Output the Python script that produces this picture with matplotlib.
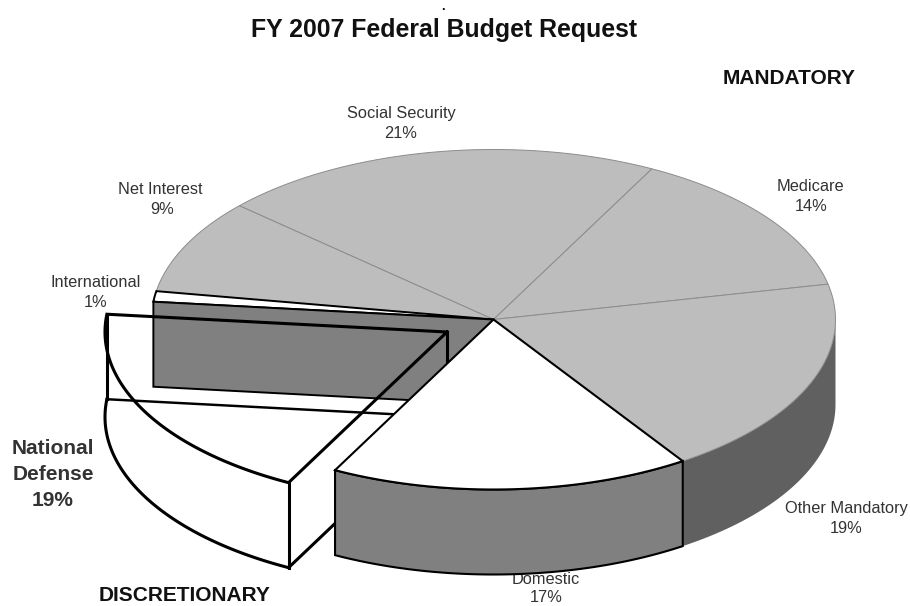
import numpy as np
import matplotlib
matplotlib.use("Agg")
import matplotlib.pyplot as plt
from matplotlib.patches import Polygon

plt.rcParams['font.family'] = ['Liberation Sans', 'DejaVu Sans']

# --- data ---
categories = ["Social Security", "Medicare", "Other Mandatory", "Domestic",
              "National Defense", "International", "Net Interest"]
shares = [21, 14, 19, 17, 19, 1, 9]
title = "FY 2007 Federal Budget Request"

# --- geometry of the projected pie (pixel space) ---
W, H = 910, 606
CX, CY, RX, RY, DEPTH = 493.5, 319.5, 342, 170, 85
START = 138.0
EXPLODE = (-46.5, 12.5)
TOP, WALL_MID, WALL_DARK = '#bdbdbd', '#808080', '#606060'

fig = plt.figure(figsize=(W / 100, H / 100), dpi=100)
ax = fig.add_axes([0, 0, 1, 1])
ax.set_xlim(0, W)
ax.set_ylim(H, 0)
ax.axis('off')

edges = START - np.cumsum([0] + shares) * 3.6
bounds = {c: (edges[i], edges[i + 1]) for i, c in enumerate(categories)}


def arc(a0, a1, dx=0, dy=0, n=80):
    t = np.radians(np.linspace(a0, a1, n))
    return np.column_stack([CX + dx + RX * np.cos(t), CY + dy - RY * np.sin(t)])


def wedge(c, dx=0, dy=0):
    a0, a1 = bounds[c]
    return np.vstack([[CX + dx, CY + dy], arc(a0, a1, dx, dy)])


def wall(a0, a1, dx=0, dy=0):
    top = arc(a0, a1, dx, dy)
    return np.vstack([top, top[::-1] + [0, DEPTH]])


# Labels sit under the pie (the Domestic label is partly hidden by its wall)
labels = {"Social Security": (401, 113.5, "21%", 401, 133.5), "Medicare": (810, 186.5, "14%", 811, 206.5),
          "Other Mandatory": (846, 508.5, "19%", 846, 528.5), "Domestic": (546, 580, "17%", 546, 597.5),
          "International": (96, 282.5, "1%", 96, 302.5), "Net Interest": (160, 189.5, "9%", 162, 209.5)}
for name, (x, y, pct, xp, yp) in labels.items():
    ax.text(x, y, name, ha='center', va='center', fontsize=11.8, color='#333333', zorder=1)
    ax.text(xp, yp, pct, ha='center', va='center', fontsize=11.8, color='#333333', zorder=1)

# Mandatory side wall
ax.add_patch(Polygon(wall(bounds["Other Mandatory"][0] * 0, bounds["Other Mandatory"][1]),
                     fc=WALL_DARK, ec='none', zorder=2))

# Grey top slices
for c in ["Social Security", "Medicare", "Other Mandatory", "Net Interest"]:
    ax.add_patch(Polygon(wedge(c), fc=TOP, ec='#8c8c8c', lw=0.7, zorder=3))

# International sliver
ax.add_patch(Polygon(wedge("International"), fc='white', ec='black', lw=1.4, zorder=4))

# Inner wall seen through the gap left by National Defense
a_end = bounds["National Defense"][1]
p = arc(a_end, a_end, n=1)[0]
ax.add_patch(Polygon([p, [CX, CY], [CX, CY + DEPTH], p + [0, DEPTH]],
                     fc=WALL_MID, ec='black', lw=1.4, zorder=4))

# National Defense: exploded, outline only
dx, dy = EXPLODE
a0, a1 = bounds["National Defense"]
lw = 2.2
top = arc(a0, a1, dx, dy)
apex = np.array([CX + dx, CY + dy])
ax.plot(*np.vstack([apex, top, apex]).T, color='black', lw=lw, zorder=5, solid_joinstyle='miter')
ax.plot(*(top + [0, DEPTH]).T, color='black', lw=lw, zorder=5)
for pt in (top[0], top[-1], apex):
    ax.plot([pt[0], pt[0]], [pt[1], pt[1] + DEPTH], color='black', lw=lw, zorder=5)
ax.plot([apex[0], top[0][0]], [apex[1] + DEPTH, top[0][1] + DEPTH], color='black', lw=lw, zorder=5)
ax.plot([apex[0], top[-1][0]], [apex[1] + DEPTH, top[-1][1] + DEPTH], color='black', lw=lw * 0.8, zorder=5)

# Domestic: white top and mid-grey wall, in front of everything
a0, a1 = bounds["Domestic"]
ax.add_patch(Polygon(wall(a0, a1), fc=WALL_MID, ec='black', lw=1.5, zorder=6))
ax.add_patch(Polygon(wedge("Domestic"), fc='white', ec='black', lw=1.5, zorder=7))

# Titles and group labels
ax.text(444.5, 30.5, title, ha='center', va='center', fontsize=17.9, fontweight='bold', color='#111111')
ax.text(443, 9.5, ".", ha='center', va='baseline', fontsize=9, fontweight='bold', color='black')
ax.text(789, 79, "MANDATORY", ha='center', va='center', fontsize=15, fontweight='bold', color='#111111')
ax.text(185, 595.5, "DISCRETIONARY", ha='center', va='center', fontsize=15, fontweight='bold', color='#111111')
for txt, y in [("National", 449), ("Defense", 474), ("19%", 500)]:
    ax.text(53, y, txt, ha='center', va='center', fontsize=15, fontweight='bold', color='#333333')

fig.savefig("out.png", dpi=100, facecolor='white')
